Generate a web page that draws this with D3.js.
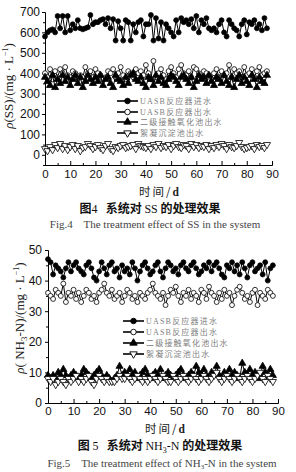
<!DOCTYPE html>
<html>
<head>
<meta charset="utf-8">
<script src="https://cdn.jsdelivr.net/npm/d3@7"></script>
<style>
  body { margin: 0; background: #fff; }
  svg text { font-family: Arial, "Liberation Sans", sans-serif; white-space: pre; }
</style>
</head>
<body>
<div id="chart-area"></div>
<script>
const WIDTH = 296
const HEIGHT = 472

// legend / series names
const seriesNames = ["UASB反应器进水", "UASB反应器出水", "二级接触氧化池出水", "絮凝沉淀池出水"]

// tick labels
const dayTicks = [0, 10, 20, 30, 40, 50, 60, 70, 80, 90]
const dayMinor = [5, 15, 25, 35, 45, 55, 65, 75, 85]
const ssTicks = [0, 100, 200, 300, 400, 500, 600, 700]
const ssMinor = [-50, 50, 150, 250, 350, 450, 550, 650]
const nhTicks = [0, 10, 20, 30, 40, 50]
const nhMinor = [5, 15, 25, 35, 45]

// SS (mg/L), one value per day starting at day 0
const ssInfluent = [580,600,610,615,600,680,620,680,600,680,610,640,620,660,620,615,620,625,685,640,
  650,650,660,665,640,670,620,665,560,655,620,560,660,650,560,640,600,650,660,580,
  640,640,685,560,670,570,650,560,640,620,600,580,660,600,670,650,660,640,665,620,
  680,600,660,640,670,620,610,620,600,640,660,600,580,660,640,620,610,580,640,660,
  590,650,640,660,620,640,610,670,620]
const ssUasbOut = [400,380,420,370,410,380,420,400,430,390,380,410,400,370,390,380,430,400,410,380,
  420,400,390,370,380,410,400,420,380,400,430,390,370,410,400,380,420,400,410,390,
  440,400,370,460,380,400,420,390,370,410,430,400,380,420,440,400,390,410,380,430,
  420,400,380,410,400,390,370,400,420,380,410,390,400,440,380,420,400,410,380,430,
  390,400,420,380,410,430,390,400,410]
const ssContact = [380,360,340,390,330,370,350,390,360,380,340,370,390,350,380,330,360,390,370,350,
  380,360,390,340,370,380,350,330,390,370,360,340,380,350,390,400,370,360,380,350,
  330,380,370,340,390,360,380,350,340,370,390,380,360,340,380,390,370,350,380,330,
  360,390,370,380,350,390,360,340,380,370,350,390,360,340,380,330,370,390,350,380,
  360,340,390,370,330,380,360,350,390]
const ssFloc = [30,20,40,25,50,35,55,30,45,25,40,50,30,45,20,35,40,55,45,30,
  40,50,35,25,45,55,30,20,40,35,45,50,35,40,45,50,30,55,45,40,
  35,45,30,50,40,55,35,45,40,50,30,45,55,40,35,50,45,30,55,40,
  50,35,45,40,50,30,45,35,50,40,55,45,30,50,40,35,45,60,40,30,
  35,40,45,30,50,40,45,35,50]

// NH3-N (mg/L)
const nhInfluent = [47,46,42,45,44,43,41,44,46,43,45,46,44,43,42,45,46,44,41,40,
  43,46,44,42,45,46,43,44,41,45,43,44,42,46,44,40,43,45,46,44,
  42,43,45,46,43,41,44,46,45,43,44,42,45,46,44,43,45,46,44,42,
  43,45,44,46,43,45,46,44,42,41,45,44,46,43,45,42,46,44,41,45,
  46,43,44,45,42,46,40,44,45]
const nhUasbOut = [36,35,34,37,36,35,39,33,36,35,37,34,36,33,35,37,36,34,35,33,
  36,37,39,36,35,37,34,35,36,33,35,37,36,34,35,33,36,35,34,36,
  37,39,36,35,34,36,32,35,37,36,38,35,33,36,35,37,34,36,35,33,
  37,36,34,38,36,35,33,36,34,37,35,36,32,35,37,38,36,34,35,33,
  36,37,32,36,35,34,37,36,35]
const nhContact = [9,8,9,8,10,9,11,9,8,9,10,9,8,9,11,10,9,8,9,10,
  11,9,8,9,8,7,8,9,12,9,10,9,11,9,10,8,9,10,11,9,
  8,9,10,9,11,8,9,10,9,8,9,10,11,9,8,9,10,9,12,10,
  9,11,9,8,10,9,12,9,8,10,9,11,9,10,9,8,13,10,9,11,
  9,10,8,9,12,10,9,11,9]
const nhFloc = [8,7,8,6,7,8,7,6,8,7,8,9,7,8,7,8,9,7,6,8,
  9,8,7,8,7,7,7,8,9,8,8,9,8,7,8,9,8,7,8,7,
  8,9,8,7,8,9,8,7,7,9,8,7,8,9,8,7,8,9,8,7,
  8,9,8,7,8,9,10,8,7,8,9,8,7,8,9,8,7,8,9,8,
  7,8,9,10,8,7,9,8,7]

// marker styles per series
const markers = [
  { type: d3.symbolCircle, fill: "#000", rot: 0 },
  { type: d3.symbolCircle, fill: "#fff", rot: 0 },
  { type: d3.symbolTriangle, fill: "#000", rot: 0 },
  { type: d3.symbolTriangle, fill: "#fff", rot: 180 }
]

const svg = d3.select("#chart-area").append("svg")
  .attr("width", WIDTH)
  .attr("height", HEIGHT)

function drawPanel(p) {
  const x = d3.scaleLinear().domain([0, 90]).range(p.xRange)
  const y = d3.scaleLinear().domain(p.yDomain).range(p.yRange)
  const g = svg.append("g")

  // Y axis (ticks outward)
  g.append("g")
    .attr("transform", `translate(${p.xRange[0]},0)`)
    .call(d3.axisLeft(y).tickValues(p.minor).tickSize(2).tickSizeOuter(0).tickFormat(""))
  g.append("g")
    .attr("class", "y axis")
    .attr("transform", `translate(${p.xRange[0]},0)`)
    .call(d3.axisLeft(y).tickValues(p.ticks).tickSize(3).tickPadding(p.yPad).tickSizeOuter(0))

  // X axis (ticks inward)
  g.append("g")
    .attr("transform", `translate(0,${p.yRange[0]})`)
    .call(d3.axisBottom(x).tickValues(dayMinor).tickSize(-2).tickSizeOuter(0).tickFormat(""))
  g.append("g")
    .attr("class", "x axis")
    .attr("transform", `translate(0,${p.yRange[0]})`)
    .call(d3.axisBottom(x).tickValues(dayTicks).tickSize(-4).tickPadding(p.xPad).tickSizeOuter(0))

  g.selectAll(".y.axis text").attr("font-size", "12px").attr("fill", "#111")
  g.selectAll(".x.axis text").attr("font-size", "11.5px").attr("fill", "#111")
  g.selectAll("path.domain, .tick line").attr("stroke", "#000").attr("stroke-width", 1)

  const line = d3.line().x((d, i) => x(i)).y(d => y(d))

  p.series.forEach((values, s) => {
    g.append("path")
      .attr("d", line(values))
      .attr("fill", "none")
      .attr("stroke", "#000")
      .attr("stroke-width", 1)
    g.selectAll(null)
      .data(values)
      .enter().append("path")
      .attr("d", d3.symbol().type(markers[s].type).size(s < 2 ? 19 : 22))
      .attr("transform", (d, i) => `translate(${x(i)},${y(d)}) rotate(${markers[s].rot})`)
      .attr("fill", markers[s].fill)
      .attr("stroke", "#000")
      .attr("stroke-width", 0.8)
  })

  // legend
  seriesNames.forEach((name, s) => {
    const ly = p.legend.y[s]
    const row = g.append("g")
    row.append("line")
      .attr("x1", p.legend.x).attr("x2", p.legend.x + 21)
      .attr("y1", ly).attr("y2", ly)
      .attr("stroke", "#000").attr("stroke-width", 1.6)
    row.append("path")
      .attr("d", d3.symbol().type(markers[s].type).size(24))
      .attr("transform", `translate(${p.legend.x + 10.5},${ly}) rotate(${markers[s].rot})`)
      .attr("fill", markers[s].fill)
      .attr("stroke", "#000")
      .attr("stroke-width", 0.9)
    row.append("text")
      .attr("x", p.legend.x + 23)
      .attr("y", ly + 3)
      .attr("font-size", "8px")
      .attr("letter-spacing", "1.2px")
      .attr("fill", "#808080")
      .style("font-family", "'Liberation Serif', 'Noto Sans CJK SC', serif")
      .text(name)
  })

  // y title
  const yt = g.append("text")
    .attr("transform", `translate(${p.yTitle.x},${p.yTitle.y}) rotate(-90)`)
    .attr("text-anchor", "middle")
    .attr("font-size", "13px")
    .style("font-family", "'Liberation Serif', serif")
    .attr("fill", "#222")
  yt.append("tspan").attr("font-style", "italic").text("ρ")
  p.yTitle.parts.forEach(part => {
    const t = yt.append("tspan").text(part.t)
    if (part.sub) t.attr("font-size", "9px").attr("dy", "3")
    if (part.sup) t.attr("font-size", "8px").attr("dy", "-5")
    if (part.reset) t.attr("dy", part.reset)
  })

  // x title
  const xt = g.append("text")
    .attr("x", p.xTitle.x).attr("y", p.xTitle.y)
    .attr("text-anchor", "middle")
    .attr("font-size", "11.5px")
    .attr("letter-spacing", "2px")
    .attr("fill", "#222")
    .style("font-family", "'Noto Sans CJK SC', sans-serif")
  xt.append("tspan").text("时间/")
  xt.append("tspan").style("font-family", "'Liberation Serif', serif").attr("font-weight", "bold").text("d")

  // captions
  const cap = g.append("text")
    .attr("x", p.caption.x).attr("y", p.caption.y)
    .attr("text-anchor", "middle")
    .attr("font-size", "12px")
    .attr("fill", "#111")
    .style("font-family", "'Noto Sans CJK SC', sans-serif")
    .attr("font-weight", "bold")
  p.caption.parts.forEach(part => {
    const t = cap.append("tspan").text(part.t)
    if (part.serif) t.style("font-family", "'Liberation Serif', serif").attr("font-weight", "normal")
    if (part.sub) t.attr("font-size", "8px").attr("dy", "3")
    if (part.reset) t.attr("dy", part.reset)
  })

  const en = g.append("text")
    .attr("x", p.english.x).attr("y", p.english.y)
    .attr("text-anchor", "middle")
    .attr("font-size", "11px")
    .attr("fill", "#444")
    .style("font-family", "'Liberation Serif', serif")
  p.english.parts.forEach(part => {
    const t = en.append("tspan").text(part.t)
    if (part.sub) t.attr("font-size", "7px").attr("dy", "2")
    if (part.reset) t.attr("dy", part.reset)
  })
}

drawPanel({
  xRange: [45, 272], yRange: [165, 12], yDomain: [-50, 700],
  ticks: ssTicks, minor: ssMinor, yPad: 2, xPad: 5,
  series: [ssInfluent, ssUasbOut, ssContact, ssFloc],
  legend: { x: 117, y: [101, 112, 122, 133] },
  yTitle: { x: 13, y: 86, parts: [{ t: "(SS)/(mg · L" }, { t: "−1", sup: true }, { t: ")", reset: "5" }] },
  xTitle: { x: 160, y: 195.5 },
  caption: { x: 150, y: 212.5, parts: [{ t: "图" }, { t: "4", serif: true }, { t: "   系统对 " }, { t: "SS", serif: true }, { t: " 的处理效果" }] },
  english: { x: 155, y: 227.5, parts: [{ t: "Fig.4    The treatment effect of SS in the system" }] }
})

drawPanel({
  xRange: [48, 278], yRange: [403, 250], yDomain: [0, 50],
  ticks: nhTicks, minor: nhMinor, yPad: 3, xPad: 4,
  series: [nhInfluent, nhUasbOut, nhContact, nhFloc],
  legend: { x: 123, y: [321, 332, 343, 354] },
  yTitle: { x: 24, y: 318, parts: [{ t: "( NH" }, { t: "3", sub: true }, { t: "-N)/(mg · L", reset: "-3" }, { t: "−1", sup: true }, { t: ")", reset: "5" }] },
  xTitle: { x: 166, y: 432.5 },
  caption: { x: 160, y: 449.5, parts: [{ t: "图 " }, { t: "5", serif: true }, { t: "   系统对 " }, { t: "NH", serif: true }, { t: "3", serif: true, sub: true }, { t: "-N", serif: true, reset: "-3" }, { t: " 的处理效果" }] },
  english: { x: 162, y: 466.5, parts: [{ t: "Fig.5    The treatment effect of NH" }, { t: "3", sub: true }, { t: "-N in the system", reset: "-2" }] }
})
</script>
</body>
</html>
